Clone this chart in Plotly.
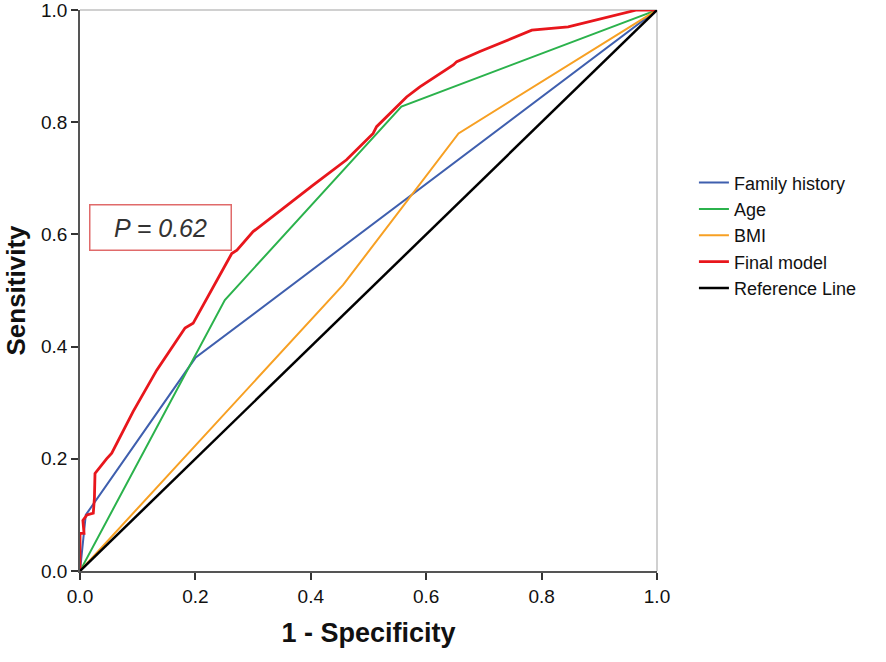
import plotly.graph_objects as go

# ROC curve data (1 - specificity, sensitivity)
fh_x = [0.0, 0.01, 0.20, 1.0]
fh_y = [0.0, 0.10, 0.38, 1.0]

age_x = [0.0, 0.251, 0.557, 1.0]
age_y = [0.0, 0.483, 0.828, 1.0]

bmi_x = [0.0, 0.456, 0.656, 1.0]
bmi_y = [0.0, 0.510, 0.780, 1.0]

fm_x = [0.0, 0.0, 0.007, 0.005, 0.012, 0.023, 0.025, 0.026, 0.046, 0.055, 0.092,
        0.133, 0.182, 0.190, 0.196, 0.263, 0.272, 0.300, 0.347, 0.404, 0.462,
        0.508, 0.514, 0.566, 0.589, 0.647, 0.653, 0.693, 0.783, 0.846, 0.965, 1.0]
fm_y = [0.0, 0.067, 0.067, 0.09, 0.10, 0.103, 0.13, 0.174, 0.200, 0.210, 0.284,
        0.358, 0.433, 0.4385, 0.4415, 0.566, 0.572, 0.605, 0.643, 0.688, 0.733,
        0.780, 0.792, 0.845, 0.863, 0.902, 0.908, 0.926, 0.964, 0.970, 1.0, 1.0]

ref_x = [0.0, 1.0]
ref_y = [0.0, 1.0]

tick_vals = [0.0, 0.2, 0.4, 0.6, 0.8, 1.0]
tick_text = ["0.0", "0.2", "0.4", "0.6", "0.8", "1.0"]

series = [
    ("Family history", fh_x, fh_y, "#3f5fae", 2.0),
    ("Age", age_x, age_y, "#2bb24c", 2.0),
    ("BMI", bmi_x, bmi_y, "#f7a023", 2.0),
    ("Final model", fm_x, fm_y, "#e8161c", 2.8),
    ("Reference Line", ref_x, ref_y, "#000000", 2.5),
]

fig = go.Figure()
for i, (name, xs, ys, col, w) in enumerate(series):
    fig.add_trace(go.Scatter(x=xs, y=ys, mode="lines", name=name,
                             legendgroup=f"g{i}",
                             line=dict(color=col, width=w)))

font_family = "Liberation Sans, Arial, sans-serif"

fig.update_layout(
    width=886, height=662,
    margin=dict(l=80, r=229, t=10, b=91),
    paper_bgcolor="white", plot_bgcolor="white",
    font=dict(family=font_family, color="#111111"),
    showlegend=True,
    legend=dict(x=1.064, y=0.725, xanchor="left", yanchor="top",
                font=dict(size=18, color="#111111"),
                tracegroupgap=0, bgcolor="rgba(0,0,0,0)"),
    xaxis=dict(range=[0, 1], tickvals=tick_vals, ticktext=tick_text,
               showgrid=False, zeroline=False, showline=True, automargin=False,
               ticklabeloverflow="allow",
               linecolor="#555555", linewidth=1.5,
               ticks="outside", ticklen=7, tickwidth=2, tickcolor="#333333",
               tickfont=dict(size=19, color="#111111"),
               title=dict(text="<b>1 - Specificity</b>", font=dict(size=27, color="#111111"),
                          standoff=18)),
    yaxis=dict(range=[0, 1], tickvals=tick_vals, ticktext=tick_text,
               showgrid=False, zeroline=False, showline=True, automargin=False,
               ticklabeloverflow="allow",
               linecolor="#555555", linewidth=1.5,
               ticks="outside", ticklen=7, tickwidth=2, tickcolor="#333333",
               tickfont=dict(size=19, color="#111111"),
               title=dict(text="<b>Sensitivity</b>", font=dict(size=26, color="#111111"),
                          standoff=8)),
)

# light gray top and right frame lines
fig.add_shape(type="line", xref="paper", yref="paper", x0=0, x1=1, y0=1, y1=1,
              line=dict(color="#d0d0d0", width=2), layer="below")
fig.add_shape(type="line", xref="paper", yref="paper", x0=1, x1=1, y0=0, y1=1,
              line=dict(color="#d0d0d0", width=2), layer="below")

# P value box
fig.add_annotation(x=0.14, y=0.613, xref="x", yref="y",
                   text="<i>P = 0.62</i>", showarrow=False,
                   font=dict(size=25, color="#333333", family=font_family),
                   bordercolor="#e06a6a", borderwidth=1.5, borderpad=8,
                   bgcolor="white", width=124, height=28)

fig.write_html("out.html", config={"displayModeBar": False},
               post_script="document.body.style.margin='0px';document.body.style.padding='0px';")
